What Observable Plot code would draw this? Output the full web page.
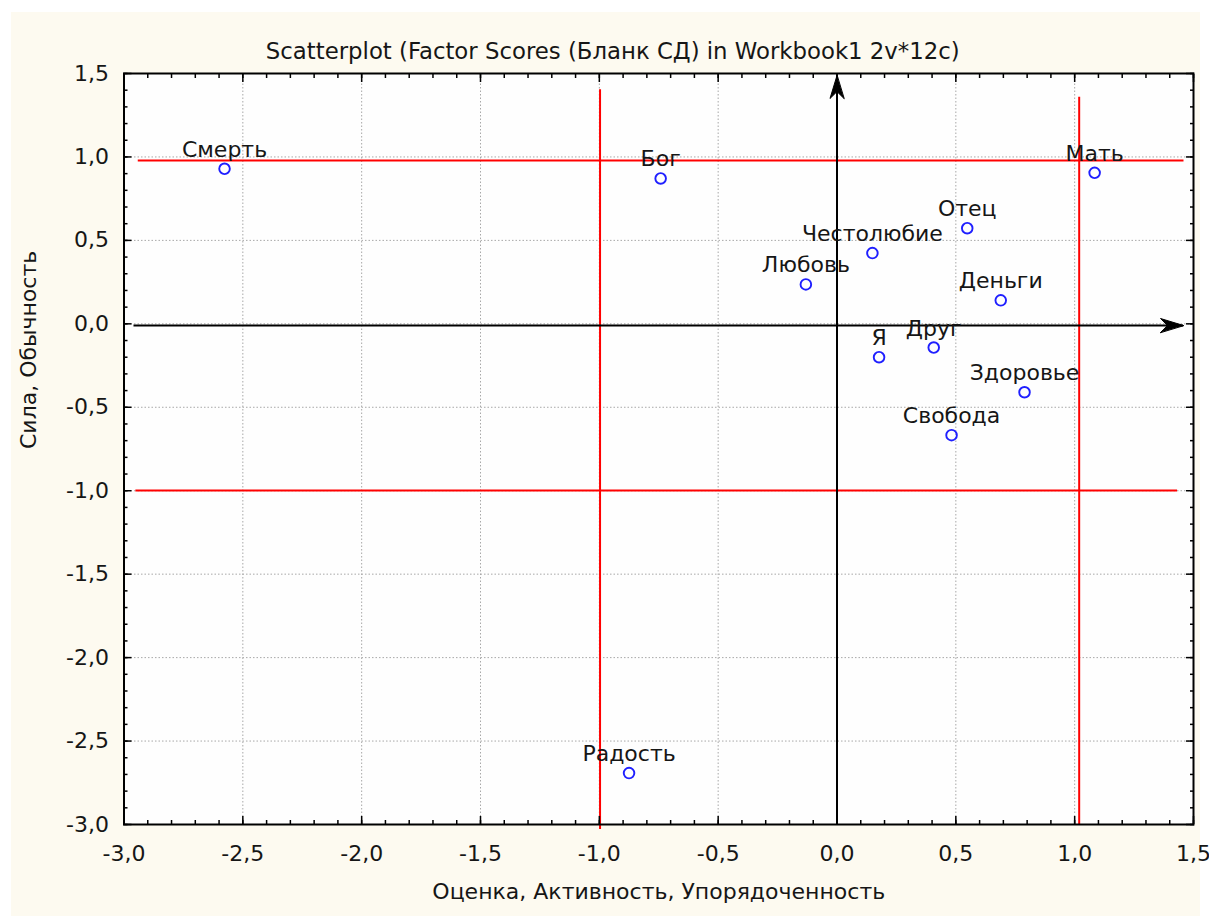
<!DOCTYPE html>
<html>
<head>
<meta charset="utf-8">
<script src="https://cdn.jsdelivr.net/npm/d3@7"></script>
<script src="https://cdn.jsdelivr.net/npm/@observablehq/plot@0.6"></script>
<style>
  html, body { margin: 0; padding: 0; background: #ffffff; }
  #chart { position: absolute; left: 11px; top: 12px; width: 1189px; height: 904px; background: #fdfaf0; }
</style>
</head>
<body>
<div id="chart"></div>
<script>
// ---- data ----
const titleText = "Scatterplot (Factor Scores (Бланк СД) in Workbook1 2v*12c)";
const xLabel = "Оценка, Активность, Упорядоченность";
const yLabel = "Сила, Обычность";

const words = ["Смерть", "Бог", "Мать", "Отец", "Честолюбие", "Любовь", "Деньги", "Я", "Друг", "Здоровье", "Свобода", "Радость"];
const factor1 = [-2.577, -0.742, 1.084, 0.548, 0.149, -0.131, 0.689, 0.177, 0.407, 0.789, 0.482, -0.875];
const factor2 = [0.929, 0.871, 0.905, 0.573, 0.424, 0.236, 0.141, -0.200, -0.142, -0.410, -0.667, -2.692];

const majorTicks = [-3.0, -2.5, -2.0, -1.5, -1.0, -0.5, 0.0, 0.5, 1.0, 1.5];
const minorTicks = d3.range(-30, 16).map(i => i / 10);

// red reference lines (data units)
const redH_y = [0.979, -0.998];
const redH_x1 = [-2.94, -2.95];
const redH_x2 = [1.46, 1.433];
const redV_x = [-0.997, 1.019];
const redV_y1 = [1.403, 1.357];
const redV_y2 = [-3.03, -3.0];

// black coordinate axes with arrows (data units)
const axisH = {y: -0.01, x1: -2.958, x2: 1.458};
const axisV = {x: 0.0, y1: -3.0, y2: 1.488};

// ---- build ----
const points = words.map((w, i) => ({word: w, x: factor1[i], y: factor2[i]}));
const redH = redH_y.map((y, i) => ({y, x1: redH_x1[i], x2: redH_x2[i]}));
const redV = redV_x.map((x, i) => ({x, y1: redV_y1[i], y2: redV_y2[i]}));
const fmt = d => d.toFixed(1).replace(".", ",");
const textColor = "#161616";
const FS = 22;

const arrowHead = {
  draw(ctx, l, r) {
    ctx.moveTo(0, -l);
    ctx.lineTo(-7, 0);
    ctx.lineTo(0, -l * 0.3);
    ctx.lineTo(7, 0);
    ctx.closePath();
  }
};

const inTicks = (axis, anchor, ticks, size) =>
  axis({anchor, ticks, tickSize: -size, fill: "none", stroke: "black", strokeWidth: 1.5, label: null, tickFormat: () => ""});

const plot = Plot.plot({
  width: 1189,
  height: 904,
  marginLeft: 112.5,
  marginRight: 7,
  marginTop: 61,
  marginBottom: 92,
  x: {domain: [-3, 1.5]},
  y: {domain: [-3, 1.5]},
  style: {background: "transparent", fontFamily: "'DejaVu Sans', Verdana, sans-serif", fontSize: FS + "px", color: textColor, overflow: "visible"},
  marks: [
    Plot.frame({fill: "#fefefe", stroke: null}),
    Plot.gridX({ticks: majorTicks.slice(1, -1), stroke: "#a8a8a8", strokeOpacity: 1, strokeDasharray: "1.5,2"}),
    Plot.gridY({ticks: majorTicks.slice(1, -1), stroke: "#a8a8a8", strokeOpacity: 1, strokeDasharray: "1.5,2"}),
    // red lines
    Plot.ruleY(redH, {y: "y", x1: "x1", x2: "x2", stroke: "#ff0000", strokeWidth: 2}),
    Plot.ruleX(redV, {x: "x", y1: "y1", y2: "y2", stroke: "#ff0000", strokeWidth: 2}),
    // black axes
    Plot.ruleY([axisH], {y: "y", x1: "x1", x2: "x2", stroke: "black", strokeWidth: 2}),
    Plot.ruleX([axisV], {x: "x", y1: "y1", y2: "y2", stroke: "black", strokeWidth: 2}),
    Plot.vector([axisH], {x: "x2", y: "y", rotate: 90, length: 23, anchor: "end", shape: arrowHead, fill: "black", stroke: "black", strokeWidth: 1}),
    Plot.vector([axisV], {x: "x", y: "y2", rotate: 0, length: 23, anchor: "end", shape: arrowHead, fill: "black", stroke: "black", strokeWidth: 1}),
    // points
    Plot.dot(points, {x: "x", y: "y", r: 5.3, stroke: "#1f1fff", strokeWidth: 1.9, fill: "none"}),
    Plot.text(points, {x: "x", y: "y", text: "word", lineAnchor: "bottom", dy: -12, fill: textColor, fontSize: FS}),
    // frame
    Plot.frame({stroke: "black", strokeWidth: 2}),
    // inward ticks on all sides
    inTicks(Plot.axisX, "bottom", minorTicks, 4),
    inTicks(Plot.axisX, "bottom", majorTicks, 8),
    inTicks(Plot.axisX, "top", minorTicks, 4),
    inTicks(Plot.axisX, "top", majorTicks, 8),
    inTicks(Plot.axisY, "left", minorTicks, 4),
    inTicks(Plot.axisY, "left", majorTicks, 8),
    inTicks(Plot.axisY, "right", minorTicks, 4),
    inTicks(Plot.axisY, "right", majorTicks, 8),
    // tick labels
    Plot.axisX({anchor: "bottom", ticks: majorTicks, tickSize: 0, tickPadding: 21, tickFormat: fmt, label: null, fill: textColor, fontSize: FS}),
    Plot.axisY({anchor: "left", ticks: majorTicks, tickSize: 0, tickPadding: 15, tickFormat: fmt, label: null, fill: textColor, fontSize: FS}),
    // titles
    Plot.text([titleText], {frameAnchor: "top", text: d => d, dy: -31, dx: -46, fill: textColor, fontSize: 22.8}),
    Plot.text([xLabel], {frameAnchor: "bottom", text: d => d, dy: 74, fill: textColor, fontSize: FS}),
    Plot.text([yLabel], {frameAnchor: "left", text: d => d, rotate: -90, dx: -95, fill: textColor, fontSize: FS})
  ]
});
document.getElementById("chart").appendChild(plot);
</script>
</body>
</html>
